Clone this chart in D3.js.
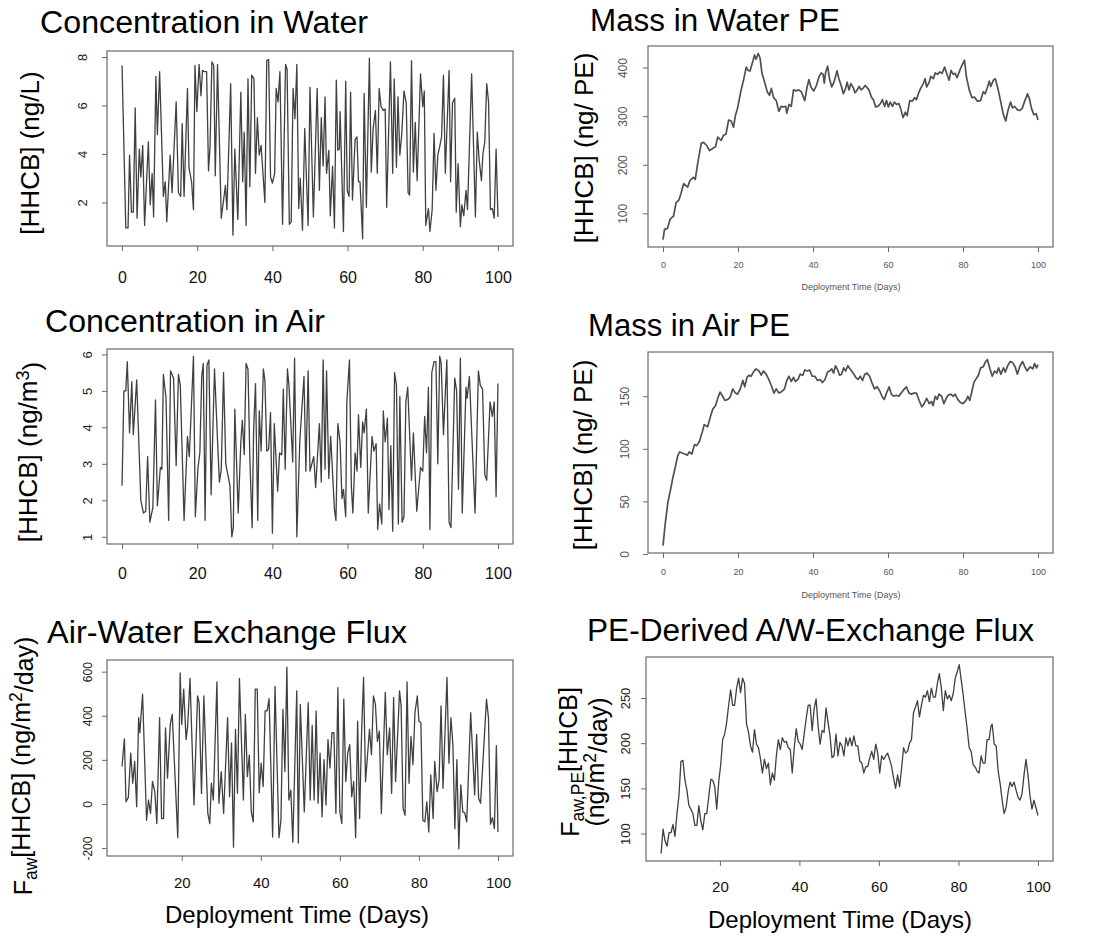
<!DOCTYPE html>
<html>
<head>
<meta charset="utf-8">
<script src="https://cdn.jsdelivr.net/npm/d3@7"></script>
<style>
  body { margin: 0; background: #fff; }
  svg { display: block; }
  svg text { font-family: "Liberation Sans", Arial, Helvetica, sans-serif; }
</style>
</head>
<body>
<svg id="chart" width="1096" height="941"></svg>
<script>
// ---- data ----
const dayTicks = [0, 20, 40, 60, 80, 100];
const fluxDayTicks = [20, 40, 60, 80, 100];
const waterTicks = [2, 4, 6, 8];
const airTicks = [1, 2, 3, 4, 5, 6];
const massWaterTicks = [100, 200, 300, 400];
const massAirTicks = [0, 50, 100, 150];
const fluxTicks = [-200, 0, 200, 400, 600];
const peFluxTicks = [100, 150, 200, 250];

const waterDays = [0,1,1.6,2,2.5,3,3.5,4,4.6,5,
  5.5,6,7,7.5,8,8.4,9,9.4,10,11,
  11.5,11.9,12.8,13.3,14.4,15,15.6,16,16.5,17.4,
  17.8,18.5,19,19.4,19.9,20.5,21,21.4,21.8,22.5,
  23,23.4,23.9,24.4,24.8,25.4,26.4,27.5,27.9,28.9,
  29.5,30,30.8,31.6,32.1,32.5,33,33.5,34,34.5,
  35.1,35.5,36,36.5,37,38,38.5,39,39.5,40,
  40.6,41,41.5,42,42.7,43.5,43.9,44.5,45,45.5,
  46,46.5,47,47.4,48,48.6,49.5,50,50.9,51.9,
  52.5,53,53.5,54,54.4,55,55.4,56,56.5,57,
  57.4,57.8,58,58.9,59.5,59.9,60.4,60.8,61.3,62,
  62.5,62.9,63.3,64,64.4,65,65.8,66.3,66.8,67.4,
  67.9,68.4,68.9,69.5,70,70.4,71.4,72,72.4,73,
  73.4,73.9,74.4,75,75.6,76.1,76.5,77,77.5,78,
  78.5,79.4,80,80.4,80.8,81.5,81.9,82.5,83,83.5,
  84,84.5,85,85.5,86,87,87.4,87.9,88.5,88.9,
  89.4,90,90.4,90.9,91.5,91.9,93,94,94.5,95,
  95.6,96,96.5,97,97.5,98,98.5,99,99.5,100];
const waterConc = [7.65,0.95,0.95,3.95,1.6,1.6,5.9,1.35,4.2,3.05,
  4.35,1.05,4.5,1.9,3.2,1.4,7.2,4.8,7.4,2.25,
  2.85,1.2,3.95,2.4,6.15,2.4,2.25,5.25,2.25,6.7,
  3.45,2.85,1.7,7.65,5.75,7.7,6.4,7.45,7.4,7.4,
  3.3,4.25,7.8,7.65,3.1,7.7,1.35,2.7,1.7,6.9,
  0.65,4.2,1.3,6.55,2.85,4.9,1.05,7.1,2.65,7.25,
  7.1,3.2,5.5,3.95,4.35,2.0,7.85,7.9,3.05,2.8,
  3.2,6.7,6.15,7.4,1.1,7.7,7.5,1.1,1.2,6.7,
  5.45,7.7,1.75,3.0,0.85,5.05,1.05,6.75,1.4,6.7,
  2.5,5.5,3.5,6.35,3.2,4.15,1.45,3.5,0.95,7.05,
  4.15,4.2,5.75,0.8,7.0,2.5,2.25,6.55,2.1,4.6,
  4.7,2.85,2.85,0.5,6.5,1.8,7.95,3.25,5.05,5.8,
  3.2,6.7,5.95,5.8,5.85,1.8,7.8,3.2,7.1,3.45,
  6.35,3.95,4.8,6.6,6.1,2.4,2.3,7.85,3.25,5.3,
  2.9,7.3,5.95,6.6,1.05,1.75,0.8,1.7,4.85,2.5,
  3.95,4.3,4.7,7.25,3.2,7.45,2.85,6.1,6.3,1.6,
  3.6,1.0,1.9,1.45,2.5,1.7,7.3,1.4,4.9,3.75,
  2.9,4.0,4.5,6.9,6.15,1.7,1.75,1.35,4.2,1.4];

const airDays = [0,0.5,1,1.4,2,2.6,3,3.9,5,5.7,
  6.3,6.8,7.4,8.2,8.9,9.4,10.2,10.6,11,11.7,
  12.4,12.9,13.7,14.4,15,15.5,16.5,17.4,17.9,19,
  19.5,20.2,20.7,21.2,21.6,22.1,22.6,23.1,23.7,24.6,
  25.4,25.9,26.4,27,27.6,28.7,29.2,29.6,30,30.9,
  31.6,32,32.5,33,33.5,34,34.6,35,35.5,36.1,
  36.5,37,37.6,38,38.5,39,39.5,40,40.5,41.4,
  41.9,42.5,42.9,43.4,44,44.4,45.4,45.9,46.5,47.3,
  48.4,48.9,49.5,50,51,51.5,52.5,53,53.5,54,
  54.4,55,55.5,56.5,56.9,57.4,58,58.5,58.9,59.5,
  59.8,60.5,61,61.4,62,62.5,62.9,63.5,64,64.4,
  65,65.5,66.5,67,67.6,68,68.5,69.1,69.5,70,
  70.6,71,71.5,72,72.5,73,73.5,73.9,74.5,75,
  75.5,76,77,77.5,78.4,79.4,80,80.5,81,81.5,
  81.9,82.4,83,83.5,84,84.5,84.9,85.5,86.4,87,
  87.5,88.5,89,89.5,90,90.5,91.5,91.8,92.4,93.9,
  94.8,95.3,95.9,96.5,97,97.9,98.5,99,99.5,100];
const airConc = [2.4,5.0,5.0,5.8,3.85,5.25,3.8,5.3,2.0,1.65,
  1.7,3.2,1.4,1.8,4.75,1.85,2.9,2.85,5.45,4.8,
  1.45,5.55,5.35,2.95,5.45,5.15,1.45,3.75,3.2,5.95,
  1.55,2.9,3.3,5.4,5.75,1.45,5.7,5.85,2.15,5.6,
  3.65,2.5,2.85,5.5,3.0,2.4,1.0,1.25,4.5,1.65,
  3.6,4.2,3.25,5.75,5.6,3.15,1.25,3.9,5.2,1.45,
  4.45,3.35,5.6,5.3,3.35,3.4,4.4,1.1,4.1,2.25,
  3.3,3.25,5.05,2.85,5.6,5.15,3.05,5.9,1.0,3.65,
  5.4,2.8,5.55,2.8,3.2,2.35,4.1,2.5,5.85,2.85,
  5.55,2.6,3.75,1.75,1.45,4.1,3.6,2.05,2.3,1.55,
  4.7,5.85,2.4,1.65,3.3,2.8,4.35,2.9,4.15,3.85,
  4.5,1.65,3.75,3.35,3.55,1.2,1.9,1.35,4.45,3.6,
  4.25,1.75,3.5,1.15,5.5,5.15,1.35,4.85,1.4,1.55,
  4.7,5.1,2.55,3.85,1.7,2.9,2.8,4.3,3.3,5.1,
  1.2,5.5,5.8,5.8,3.0,5.95,5.75,3.8,5.85,1.4,
  1.25,5.35,5.0,2.3,5.9,1.65,5.1,4.8,5.4,1.65,
  5.55,5.15,5.05,2.7,2.55,4.7,4.3,4.7,2.1,5.2];

const massWaterDays = [0,0.4,1.2,1.9,2.8,3.5,4.2,4.8,5.5,6.6,
  7.2,8.1,8.6,9.3,10.2,10.8,11.7,12.4,13.3,14,
  14.6,15.5,16.1,16.8,17.5,18.2,18.8,19.3,19.9,20.8,
  21.5,22.2,22.7,23.2,24,24.4,24.8,25.4,25.9,26.4,
  27.1,27.8,28.4,28.9,29.5,30.2,30.9,31.5,32.1,32.7,
  33,33.6,34.2,34.8,35.5,36.2,36.9,37.8,38.4,38.9,
  39.5,40.2,40.9,41.6,42.2,42.7,43,43.4,43.9,44.4,
  45,45.6,46.4,46.9,47.5,48.1,48.7,49.1,49.6,50.1,
  50.7,51.2,51.7,52.3,52.8,53.3,53.9,54.4,54.9,55.6,
  56.2,56.7,57.3,58,58.5,59.1,59.6,60.1,60.6,61.2,
  61.7,62.3,62.9,63.4,64,64.6,65.1,65.8,66.5,67.1,
  67.6,68.1,68.7,69.4,69.9,70.3,71,71.4,72.1,72.6,
  73.2,73.8,74.4,75.1,75.8,76.3,76.8,77.4,77.9,78.4,
  79,79.5,80.4,80.9,81.7,82.4,83.1,83.8,84.7,85.4,
  85.9,86.5,87,87.4,88.1,88.6,89.3,90,90.7,91.4,
  92,92.7,93.2,93.8,94.5,95.2,95.8,96.5,97.2,97.7,
  98.3,98.9,99.5,100];
const massWater = [46,67,69,88,94,122,127,141,161,154,
  168,174,170,205,244,246,239,229,234,237,
  257,250,260,263,292,290,277,301,317,353,
  375,401,394,393,414,426,417,429,419,388,
  370,350,343,357,338,332,310,320,319,320,
  306,324,320,354,352,354,350,332,359,375,
  359,352,363,381,389,386,368,391,403,377,
  360,370,393,377,363,346,357,370,354,367,
  359,348,353,361,354,357,363,359,354,339,
  332,319,320,326,334,320,332,319,329,320,
  329,324,326,315,297,308,301,332,331,338,
  334,346,357,367,377,360,370,382,377,389,
  386,391,388,401,384,374,394,386,388,379,
  391,401,415,381,353,338,339,331,332,350,
  346,359,372,361,374,377,357,332,305,290,
  312,329,317,320,313,312,316,332,346,336,
  315,303,305,292];

const massAirDays = [0,0.6,1.3,2,2.6,3.3,3.9,4.4,5.1,5.8,
  6.5,7,7.7,8.4,9,9.7,10.4,11,11.9,12.6,
  13.3,14,14.6,15.2,15.9,16.5,17.3,17.9,18.6,19.3,
  19.9,20.6,21.3,21.8,22.4,22.9,23.5,24.1,24.8,25.6,
  26.2,26.8,27.5,28.2,28.9,29.6,30.2,30.9,31.5,32.4,
  33,33.6,34.2,34.8,35.3,36,36.6,37.3,37.8,38.5,
  39.1,39.8,40.5,41.2,41.9,42.5,43.2,43.9,44.4,45,
  45.5,46,46.6,47.1,47.6,48.2,48.7,49.3,49.9,50.7,
  51.4,52,52.6,53.2,53.8,54.4,55.1,55.7,56.4,57.1,
  57.8,58.5,59,59.6,60.3,60.9,61.5,62.2,62.9,63.7,
  64.4,64.9,65.6,66.3,66.9,67.6,68.3,69,69.5,70.3,
  71,71.6,72,72.6,73.1,73.6,74.3,74.9,75.4,76,
  76.7,77.4,77.9,78.6,79.3,80,80.8,81.3,81.8,82.4,
  82.9,83.4,84.1,84.7,85.4,85.9,86.5,87.2,87.8,88.4,
  89,89.5,90.1,90.8,91.3,91.9,92.6,93.2,93.9,94.5,
  95.2,95.9,96.5,97.1,97.9,98.6,99.1,99.6,100];
const massAir = [8,29,49,61,72,83,93,97,96,95,
  94,97,95,104,103,107,115,123,121,130,
  138,141,148,154,150,146,147,149,157,153,
  152,157,165,159,168,170,169,173,176,174,
  170,174,171,166,160,153,157,153,154,157,
  165,169,164,168,164,166,171,170,175,174,
  175,169,169,165,166,163,166,173,174,176,
  172,179,175,170,171,177,174,179,176,172,
  168,166,169,165,171,172,169,163,157,159,
  155,149,147,153,159,152,150,151,150,154,
  157,159,153,152,153,153,146,140,142,148,
  143,145,141,150,147,152,150,143,147,151,
  152,150,152,147,144,143,146,150,146,155,
  163,166,170,177,178,182,185,176,169,174,
  172,177,171,177,173,179,183,182,178,171,
  179,183,178,174,178,176,181,177,180];

const fluxDays = [4.9,5.5,5.9,6.5,7.1,7.6,8.1,8.6,9.1,9.4,
  10.1,11.1,11.6,12.1,12.6,13.2,13.7,14.4,14.9,15.4,
  15.9,16.4,17.1,17.6,19,19.6,20,20.5,21.1,21.5,
  22.1,23.1,24,24.4,25,25.6,26.6,27.1,27.5,28,
  28.9,29.4,30,30.6,31.6,32.1,32.6,33.1,33.6,34.1,
  34.6,35.6,36.1,36.6,37.1,37.6,38.1,38.6,39.1,39.6,
  40.1,40.6,41.1,41.6,42.1,43,43.6,44.6,45.1,45.6,
  46.1,46.6,47.1,47.6,48.1,49.1,49.5,50,51,52,
  52.5,53,53.5,54,54.5,55,55.5,56,56.5,57,
  57.5,58,58.5,59,59.5,60,60.5,61,61.5,62,
  62.5,63,63.5,64,64.5,65,65.5,66,66.5,67.5,
  68,68.5,69,69.5,70,70.5,71.5,72,72.6,73.1,
  73.6,74.1,75.1,75.5,76,76.5,77,77.5,78,78.5,
  79,79.6,80,80.5,81,81.5,82,82.5,83,83.6,
  84,84.6,85.1,85.6,86.1,87.1,87.6,88.1,88.6,89.1,
  89.6,90.1,90.6,91.1,91.6,92.1,93.1,94.1,94.6,95.1,
  95.6,97.1,97.6,98.1,98.6,99.1,99.6,100];
const flux = [170,295,10,30,231,94,193,-13,391,323,
  498,-74,18,-43,102,56,-89,391,-66,-66,
  345,117,361,406,-153,594,361,521,292,353,
  570,-5,490,460,48,490,-43,-89,94,18,
  554,3,147,-43,391,33,277,-196,338,48,
  570,18,406,124,223,-36,-81,521,521,51,
  185,79,422,422,478,-150,533,-153,-74,429,
  147,620,18,63,-173,513,-177,452,-36,460,
  18,356,18,422,3,231,-59,201,-5,292,
  163,323,323,-43,528,-36,-89,475,102,231,
  269,33,102,-153,376,-66,323,574,102,338,
  223,490,452,284,330,-43,506,223,345,48,
  483,102,513,445,-20,-51,554,94,307,178,
  414,490,376,368,-74,-81,10,-127,132,-66,
  193,56,109,445,71,574,185,391,269,-112,
  201,-203,87,-36,-40,-81,414,41,315,26,
  3,475,391,-92,-62,-112,265,-127];

const peFluxDays = [5.2,5.7,6.2,6.7,7.2,7.7,8.2,8.7,9.2,9.7,
  10.2,10.7,11.2,11.7,12.2,12.7,13.2,13.7,14.2,14.7,
  15.2,15.7,16.2,16.7,17.2,17.7,18.2,18.7,19.2,19.7,
  20.2,20.7,21.2,21.7,22.2,22.7,23.2,23.7,24.2,24.7,
  25.2,25.7,26.2,26.7,27.2,27.7,28.2,28.7,29.2,29.7,
  30.2,30.7,31.2,31.7,32.2,32.7,33.2,33.7,34.2,34.7,
  35.2,35.7,36.2,36.7,37.2,37.7,38.2,38.7,39.2,39.7,
  40.2,40.7,41.2,41.7,42.2,42.7,43.2,43.7,44.2,44.7,
  45.2,45.7,46.2,46.7,47.2,47.7,48.2,48.7,49.2,49.7,
  50.2,50.7,51.2,51.7,52.2,52.7,53.2,53.7,54.2,54.7,
  55.2,55.7,56.2,56.7,57.2,57.7,58.2,58.7,59.2,59.7,
  60.2,60.7,61.2,61.7,62.2,62.7,63.2,63.7,64.2,64.7,
  65.2,65.7,66.2,66.7,67.2,67.7,68.2,68.7,69.2,69.7,
  70.2,70.7,71.2,71.7,72.2,72.7,73.2,73.7,74.2,74.7,
  75.2,75.7,76.2,76.7,77.2,77.7,78.2,78.7,79.2,79.7,
  80.2,80.7,81.2,81.7,82.2,82.7,83.2,83.7,84.2,84.7,
  85.2,85.7,86.2,86.7,87.2,87.7,88.2,88.5,89,89.5,
  90,90.5,91,91.5,92,92.5,93,93.5,94,94.5,
  95,95.5,96,96.5,97,97.5,98,98.5,99,100];
const peFlux = [78,105,92,86,101,101,110,97,122,142,
  180,181,159,148,131,127,122,109,109,131,
  114,104,122,122,141,160,159,152,127,157,
  176,204,210,223,242,259,242,242,261,272,
  256,272,266,221,212,197,190,215,199,195,
  183,167,182,172,178,154,167,159,186,204,
  193,206,201,202,195,193,167,195,216,202,
  199,193,210,227,242,242,214,238,249,219,
  199,214,212,239,223,208,184,186,210,186,
  201,197,186,206,197,206,197,208,197,197,
  180,178,167,174,174,184,191,182,199,189,
  167,186,182,186,189,182,174,161,150,165,
  152,172,195,189,191,200,204,234,240,247,
  229,242,253,251,258,246,261,251,251,266,
  277,261,236,258,249,253,247,255,272,279,
  287,270,253,234,216,195,191,176,174,169,
  167,186,178,178,204,204,219,221,199,197,
  169,155,137,122,129,146,157,152,157,148,
  140,137,144,165,182,165,142,127,137,120];

const svg = d3.select('#chart');

class LinePanel {

  constructor(_config, _days, _values) {
    this.config = _config;
    this.data = d3.zip(_days, _values);
    this.initVis();
  }

  initVis() {
    let vis = this;
    const b = vis.config.box;

    // R-style axes: 4% extension past the data range
    const padded = ext => {
      const r = ext[1] - ext[0];
      return [ext[0] - 0.04 * r, ext[1] + 0.04 * r];
    };

    vis.xScale = d3.scaleLinear()
      .domain(padded(d3.extent(vis.data, d => d[0])))
      .range([b.x, b.x + b.w]);

    vis.yScale = d3.scaleLinear()
      .domain(padded(d3.extent(vis.data, d => d[1])))
      .range([b.y + b.h, b.y]);

    vis.g = svg.append('g').attr('class', 'panel');
    vis.renderVis();
  }

  renderVis() {
    let vis = this;
    const c = vis.config, b = c.box;

    vis.g.append('path')
      .datum(vis.data)
      .attr('fill', 'none')
      .attr('stroke', c.lineColor)
      .attr('stroke-width', c.lineWidth)
      .attr('stroke-linejoin', 'round')
      .attr('d', d3.line().x(d => vis.xScale(d[0])).y(d => vis.yScale(d[1])));

    vis.g.append('rect')
      .attr('x', b.x).attr('y', b.y)
      .attr('width', b.w).attr('height', b.h)
      .attr('fill', 'none')
      .attr('stroke', '#6a6a6a')
      .attr('stroke-width', 1.2);

    // x axis
    const xAxisG = vis.g.append('g')
      .attr('transform', `translate(0,${b.y + b.h})`)
      .attr('color', '#6a6a6a')
      .call(d3.axisBottom(vis.xScale).tickValues(c.xTicks).tickFormat(d => d).tickSize(5).tickSizeOuter(0));
    xAxisG.select('.domain').remove();
    xAxisG.selectAll('text')
      .attr('y', c.xLab.dy)
      .attr('dy', null)
      .attr('fill', c.xLab.color)
      .style('font-size', c.xLab.size + 'px');

    // y axis, labels parallel to the axis
    const yAxisG = vis.g.append('g')
      .attr('transform', `translate(${b.x},0)`)
      .attr('color', '#6a6a6a')
      .call(d3.axisLeft(vis.yScale).tickValues(c.yTicks).tickFormat(d => d).tickSize(5).tickSizeOuter(0));
    yAxisG.select('.domain').remove();
    yAxisG.selectAll('text')
      .attr('x', null)
      .attr('dy', null)
      .attr('text-anchor', 'middle')
      .attr('transform', `translate(${-c.yLab.off},0) rotate(-90)`)
      .attr('fill', c.yLab.color)
      .style('font-size', c.yLab.size + 'px');

    // panel title
    vis.g.append('text')
      .attr('x', c.title.x).attr('y', c.title.y)
      .attr('textLength', c.title.w)
      .attr('lengthAdjust', 'spacingAndGlyphs')
      .style('font-size', '31px')
      .attr('fill', '#000')
      .text(c.title.text);

    // y title (one or two lines, with sub/superscripts)
    c.yTitle.lines.forEach(line => {
      const t = vis.g.append('text')
        .attr('transform', `translate(${line.x},${c.yTitle.y}) rotate(-90)`)
        .attr('text-anchor', 'middle')
        .style('font-size', c.yTitle.size + 'px')
        .attr('fill', '#000');
      let shift = 0;
      line.parts.forEach(p => {
        const target = p.sub ? 0.3 : p.sup ? -0.45 : 0;
        const ts = t.append('tspan').text(p.t);
        if (target !== shift) ts.attr('dy', (target - shift) + 'em');
        if (p.sub || p.sup) ts.style('font-size', '70%');
        shift = target;
      });
    });

    // x title
    if (c.xTitle) {
      vis.g.append('text')
        .attr('x', c.xTitle.x).attr('y', c.xTitle.y)
        .attr('text-anchor', 'middle')
        .style('font-size', c.xTitle.size + 'px')
        .attr('fill', c.xTitle.color)
        .text('Deployment Time (Days)');
    }
  }
}

const bigX = (dy) => ({ size: 16, dy: dy, color: '#111' });
const smallX = (dy) => ({ size: 9, dy: dy, color: '#555' });

new LinePanel({
  box: { x: 107, y: 51, w: 406, h: 195 },
  xTicks: dayTicks, yTicks: waterTicks,
  xLab: bigX(37), yLab: { size: 13, off: 20, color: '#222' },
  lineColor: '#404040', lineWidth: 1.3,
  title: { text: 'Concentration in Water', x: 40, y: 33, w: 328 },
  yTitle: { y: 153, size: 26, lines: [{ x: 39, parts: [{ t: '[HHCB] (ng/L)' }] }] },
  xTitle: null
}, waterDays, waterConc);

new LinePanel({
  box: { x: 648, y: 46, w: 405, h: 201 },
  xTicks: dayTicks, yTicks: massWaterTicks,
  xLab: smallX(21), yLab: { size: 12, off: 21, color: '#555' },
  lineColor: '#505050', lineWidth: 1.7,
  title: { text: 'Mass in Water PE', x: 590, y: 31, w: 250 },
  yTitle: { y: 148, size: 26, lines: [{ x: 593, parts: [{ t: '[HHCB] (ng/ PE)' }] }] },
  xTitle: { x: 851, y: 290, size: 9, color: '#555' }
}, massWaterDays, massWater);

new LinePanel({
  box: { x: 107, y: 349, w: 406, h: 195 },
  xTicks: dayTicks, yTicks: airTicks,
  xLab: bigX(35), yLab: { size: 13, off: 15, color: '#222' },
  lineColor: '#404040', lineWidth: 1.3,
  title: { text: 'Concentration in Air', x: 45, y: 332, w: 280 },
  yTitle: { y: 452, size: 26, lines: [{ x: 37, parts: [{ t: '[HHCB] (ng/m' }, { t: '3', sup: true }, { t: ')' }] }] },
  xTitle: null
}, airDays, airConc);

new LinePanel({
  box: { x: 648, y: 352, w: 405, h: 201 },
  xTicks: dayTicks, yTicks: massAirTicks,
  xLab: smallX(22), yLab: { size: 12, off: 19, color: '#555' },
  lineColor: '#505050', lineWidth: 1.7,
  title: { text: 'Mass in Air PE', x: 588, y: 336, w: 202 },
  yTitle: { y: 455, size: 26, lines: [{ x: 592, parts: [{ t: '[HHCB] (ng/ PE)' }] }] },
  xTitle: { x: 851, y: 598, size: 9, color: '#555' }
}, massAirDays, massAir);

new LinePanel({
  box: { x: 107, y: 660, w: 406, h: 196 },
  xTicks: fluxDayTicks, yTicks: fluxTicks,
  xLab: { size: 15, dy: 32, color: '#111' }, yLab: { size: 12, off: 15, color: '#222' },
  lineColor: '#404040', lineWidth: 1.3,
  title: { text: 'Air-Water Exchange Flux', x: 47, y: 643, w: 360 },
  yTitle: { y: 766, size: 25, lines: [{ x: 32, parts: [{ t: 'F' }, { t: 'aw', sub: true }, { t: '[HHCB] (ng/m' }, { t: '2', sup: true }, { t: '/day)' }] }] },
  xTitle: { x: 297, y: 923, size: 24, color: '#000' }
}, fluxDays, flux);

new LinePanel({
  box: { x: 646, y: 657, w: 407, h: 204 },
  xTicks: fluxDayTicks, yTicks: peFluxTicks,
  xLab: { size: 15, dy: 31, color: '#111' }, yLab: { size: 13, off: 16, color: '#222' },
  lineColor: '#404040', lineWidth: 1.3,
  title: { text: 'PE-Derived A/W-Exchange Flux', x: 587, y: 641, w: 447 },
  yTitle: { y: 762, size: 25, lines: [
    { x: 579, parts: [{ t: 'F' }, { t: 'aw,PE', sub: true }, { t: '[HHCB]' }] },
    { x: 604, parts: [{ t: '(ng/m' }, { t: '2', sup: true }, { t: '/day)' }] }
  ] },
  xTitle: { x: 840, y: 928, size: 24, color: '#000' }
}, peFluxDays, peFlux);
</script>
</body>
</html>
